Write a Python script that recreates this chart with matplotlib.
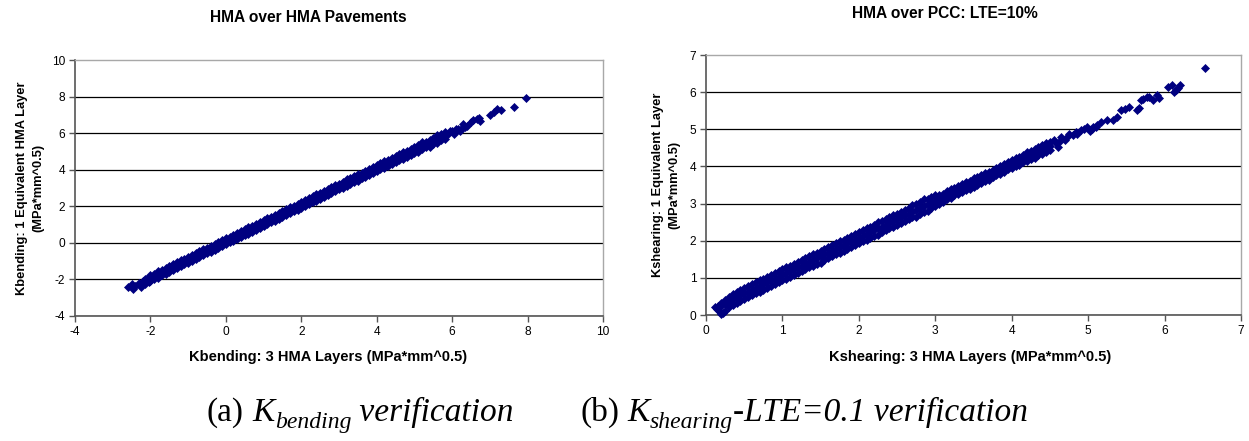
import matplotlib
matplotlib.use("Agg")
import matplotlib.pyplot as plt

plt.rcParams.update({
    "font.family": "Liberation Sans",
    "axes.unicode_minus": False,
})

W, H = 1249, 441
NAVY = "#000080"

# ---- panel (a): Kbending, 3 HMA layers vs 1 equivalent layer ----
bend_x = [-2.0, -1.9, -1.8, -1.7, -1.6, -1.5, -1.4, -1.3, -1.2, -1.1,
          -1.0, -0.9, -0.8, -0.7, -0.6, -0.5, -0.4, -0.3, -0.2, -0.1,
          0.0, 0.1, 0.2, 0.3, 0.4, 0.5, 0.6, 0.7, 0.8, 0.9,
          1.0, 1.1, 1.2, 1.3, 1.4, 1.5, 1.6, 1.7, 1.8, 1.9,
          2.0, 2.1, 2.2, 2.3, 2.4, 2.5, 2.6, 2.7, 2.8, 2.9,
          3.0, 3.1, 3.2, 3.3, 3.4, 3.5, 3.6, 3.7, 3.8, 3.9,
          4.0, 4.1, 4.2, 4.3, 4.4, 4.5, 4.6, 4.7, 4.8, 4.9,
          5.0, 5.1, 5.2, 5.3, 5.4, 5.5, 5.6, 5.7, 5.8]
bend_lo = [-2.06, -1.97, -1.92, -1.78, -1.68, -1.58, -1.51, -1.38, -1.28, -1.18,
           -1.08, -0.98, -0.88, -0.78, -0.68, -0.58, -0.48, -0.38, -0.28, -0.18,
           -0.08, 0.02, 0.12, 0.22, 0.32, 0.42, 0.49, 0.62, 0.72, 0.82,
           0.92, 1.02, 1.12, 1.22, 1.32, 1.42, 1.52, 1.62, 1.72, 1.82,
           1.92, 2.02, 2.12, 2.22, 2.29, 2.42, 2.52, 2.62, 2.72, 2.82,
           2.92, 3.02, 3.12, 3.22, 3.32, 3.38, 3.52, 3.62, 3.72, 3.82,
           3.92, 4.02, 4.08, 4.22, 4.32, 4.42, 4.52, 4.57, 4.72, 4.82,
           4.92, 4.97, 5.12, 5.22, 5.26, 5.42, 5.46, 5.62, 5.68]
bend_mid = [-1.90, -1.82, -1.72, -1.62, -1.52, -1.42, -1.32, -1.22, -1.12, -1.02,
            -0.92, -0.82, -0.72, -0.62, -0.52, -0.42, -0.32, -0.22, -0.12, -0.02,
            0.08, 0.18, 0.28, 0.38, 0.48, 0.58, 0.68, 0.78, 0.88, 0.98,
            1.08, 1.18, 1.28, 1.38, 1.48, 1.58, 1.68, 1.78, 1.88, 1.98,
            2.08, 2.18, 2.28, 2.38, 2.48, 2.58, 2.68, 2.78, 2.88, 2.98,
            3.08, 3.18, 3.28, 3.38, 3.48, 3.58, 3.68, 3.78, 3.88, 3.98,
            4.08, 4.18, 4.28, 4.38, 4.48, 4.58, 4.68, 4.78, 4.88, 4.98,
            5.08, 5.18, 5.28, 5.38, 5.48, 5.58, 5.68, 5.78, 5.88]
bend_hi = [-1.74, -1.68, -1.53, -1.46, -1.36, -1.26, -1.13, -1.06, -0.96, -0.86,
           -0.76, -0.66, -0.56, -0.46, -0.36, -0.26, -0.16, -0.06, 0.04, 0.14,
           0.24, 0.34, 0.44, 0.54, 0.64, 0.74, 0.87, 0.94, 1.04, 1.14,
           1.24, 1.34, 1.44, 1.54, 1.64, 1.74, 1.84, 1.94, 2.04, 2.14,
           2.24, 2.34, 2.44, 2.54, 2.68, 2.74, 2.84, 2.94, 3.04, 3.14,
           3.24, 3.34, 3.48, 3.54, 3.64, 3.74, 3.84, 3.94, 4.04, 4.14,
           4.24, 4.34, 4.48, 4.54, 4.64, 4.74, 4.84, 4.99, 5.04, 5.14,
           5.24, 5.34, 5.50, 5.54, 5.64, 5.74, 5.88, 5.94, 6.08]
bend_tail_x = [-2.6, -2.5, -2.45, -2.4, -2.3, -2.25, -2.2, -2.15, -2.1, -2.05, -2.15,
               5.9, 6.0, 6.05, 6.15, 6.25, 6.3, 6.4, 6.5, 6.55, 6.65, 6.75, 6.7,
               5.95, 6.1, 6.2, 6.35,
               7.0, 7.1, 7.2, 7.3, 7.65, 7.95]
bend_tail_y = [-2.4, -2.25, -2.5, -2.35, -2.2, -2.4, -2.1, -2.25, -2.0, -2.15, -1.95,
               5.95, 6.12, 5.98, 6.2, 6.3, 6.5, 6.4, 6.6, 6.72, 6.75, 6.65, 6.85,
               6.1, 6.22, 6.1, 6.35,
               7.0, 7.15, 7.3, 7.28, 7.45, 7.9]

# ---- panel (b): Kshearing, LTE = 10% ----
shear_x = [0.20, 0.25, 0.30, 0.35, 0.40, 0.45, 0.50, 0.55, 0.60, 0.65,
           0.70, 0.75, 0.80, 0.85, 0.90, 0.95, 1.00, 1.05, 1.10, 1.15,
           1.20, 1.25, 1.30, 1.35, 1.40, 1.45, 1.50, 1.55, 1.60, 1.65,
           1.70, 1.75, 1.80, 1.85, 1.90, 1.95, 2.00, 2.05, 2.10, 2.15,
           2.20, 2.25, 2.30, 2.35, 2.40, 2.45, 2.50, 2.55, 2.60, 2.65,
           2.70, 2.75, 2.80, 2.85, 2.90, 2.95, 3.00]
shear_lo = [0.06, 0.11, 0.21, 0.27, 0.33, 0.38, 0.43, 0.48, 0.53, 0.58,
            0.63, 0.68, 0.73, 0.78, 0.83, 0.88, 0.93, 0.98, 1.03, 1.08,
            1.13, 1.18, 1.23, 1.28, 1.33, 1.38, 1.40, 1.48, 1.53, 1.58,
            1.63, 1.68, 1.73, 1.78, 1.83, 1.88, 1.93, 1.98, 2.03, 2.08,
            2.13, 2.15, 2.23, 2.28, 2.33, 2.38, 2.43, 2.48, 2.53, 2.58,
            2.63, 2.64, 2.73, 2.78, 2.79, 2.88, 2.93]
shear_mid = [0.24, 0.30, 0.36, 0.42, 0.48, 0.53, 0.58, 0.63, 0.68, 0.73,
             0.78, 0.83, 0.88, 0.93, 0.98, 1.03, 1.08, 1.13, 1.18, 1.23,
             1.28, 1.33, 1.38, 1.43, 1.48, 1.53, 1.58, 1.63, 1.68, 1.73,
             1.78, 1.83, 1.88, 1.93, 1.98, 2.03, 2.08, 2.13, 2.18, 2.23,
             2.28, 2.33, 2.38, 2.43, 2.48, 2.53, 2.58, 2.63, 2.68, 2.73,
             2.78, 2.83, 2.88, 2.93, 2.98, 3.03, 3.08]
shear_hi = [0.32, 0.40, 0.49, 0.56, 0.62, 0.68, 0.73, 0.78, 0.83, 0.88,
            0.93, 0.98, 1.03, 1.08, 1.13, 1.18, 1.23, 1.28, 1.33, 1.38,
            1.43, 1.48, 1.53, 1.58, 1.63, 1.68, 1.73, 1.78, 1.83, 1.88,
            1.93, 1.98, 2.03, 2.08, 2.13, 2.18, 2.23, 2.28, 2.33, 2.38,
            2.43, 2.51, 2.53, 2.58, 2.63, 2.68, 2.73, 2.78, 2.83, 2.88,
            2.96, 2.98, 3.03, 3.11, 3.13, 3.18, 3.23]
shear2_x = [3.05, 3.10, 3.15, 3.20, 3.25, 3.30, 3.35, 3.40, 3.45, 3.50,
            3.55, 3.60, 3.65, 3.70, 3.75, 3.80, 3.85, 3.90, 3.95, 4.00,
            4.05, 4.10, 4.15, 4.20, 4.25, 4.30, 4.35, 4.40, 4.45, 4.50]
shear2_lo = [3.00, 3.04, 3.11, 3.15, 3.22, 3.25, 3.31, 3.36, 3.38, 3.45,
             3.50, 3.55, 3.60, 3.64, 3.72, 3.76, 3.79, 3.84, 3.93, 3.96,
             4.00, 4.04, 4.12, 4.15, 4.20, 4.24, 4.31, 4.34, 4.38, 4.45]
shear2_mid = [3.11, 3.16, 3.22, 3.27, 3.32, 3.37, 3.42, 3.47, 3.52, 3.57,
              3.62, 3.67, 3.72, 3.76, 3.81, 3.87, 3.92, 3.96, 4.02, 4.07,
              4.11, 4.16, 4.21, 4.26, 4.31, 4.36, 4.41, 4.46, 4.51, 4.55]
shear2_hi = [3.22, 3.27, 3.33, 3.38, 3.42, 3.48, 3.52, 3.59, 3.62, 3.68,
             3.72, 3.78, 3.82, 3.86, 3.90, 3.97, 4.02, 4.06, 4.12, 4.17,
             4.22, 4.26, 4.32, 4.38, 4.42, 4.46, 4.52, 4.58, 4.62, 4.65]
shear_tail_x = [0.12, 0.14, 0.17, 0.20, 0.22, 0.16,
                4.55, 4.60, 4.65, 4.75, 4.86, 4.91, 4.99, 5.07, 5.02, 5.12, 5.17,
                4.58, 4.63, 4.70, 4.72, 4.80, 4.84, 4.95, 5.05, 5.10,
                5.25, 5.33, 5.38, 5.43, 5.48, 5.54, 5.64, 5.67, 5.69, 5.72, 5.77,
                5.80, 5.85, 5.90, 5.93, 6.05, 6.10, 6.15, 6.20, 6.18, 6.12, 6.53]
shear_tail_y = [0.22, 0.17, 0.12, 0.02, 0.05, 0.25,
                4.70, 4.52, 4.79, 4.88, 4.88, 4.97, 5.06, 5.06, 4.95, 5.12, 5.20,
                4.62, 4.68, 4.72, 4.80, 4.85, 4.93, 5.00, 5.00, 5.05,
                5.24, 5.24, 5.33, 5.51, 5.55, 5.60, 5.51, 5.56, 5.78, 5.82, 5.87,
                5.87, 5.78, 5.92, 5.83, 6.15, 6.18, 6.05, 6.20, 6.10, 6.00, 6.64]


def dots(ax, x, y):
    ax.plot(x, y, ls="none", marker="D", ms=4.0, color=NAVY, mec=NAVY, mew=0.5,
            zorder=3, clip_on=False)


def style(ax, xlim, ylim, xticks, yticks):
    ax.set_xlim(*xlim)
    ax.set_ylim(*ylim)
    ax.set_xticks(xticks)
    ax.set_yticks(yticks)
    ax.yaxis.grid(True, color="black", lw=0.9)
    ax.yaxis.get_gridlines()[-1].set_visible(False)
    ax.set_axisbelow(True)
    for s in ("left", "bottom"):
        ax.spines[s].set_color("#555555")
        ax.spines[s].set_linewidth(1.2)
    for s in ("top", "right"):
        ax.spines[s].set_color("#a8a8a8")
        ax.spines[s].set_linewidth(1.0)
    ax.tick_params(direction="out", length=4, width=1.0, color="#555555",
                   labelsize=8.6, pad=3)


fig = plt.figure(figsize=(W / 100, H / 100), dpi=100)
ax1 = fig.add_axes([75 / W, 1 - 316 / H, 528 / W, 256 / H])
ax2 = fig.add_axes([706 / W, 1 - 315 / H, 535 / W, 260 / H])

style(ax1, (-4, 10), (-4, 10), range(-4, 11, 2), range(-4, 11, 2))
for ys in (bend_lo, bend_mid, bend_hi):
    dots(ax1, bend_x, ys)
dots(ax1, bend_tail_x, bend_tail_y)

style(ax2, (0, 7), (0, 7), range(0, 8), range(0, 8))
for ys in (shear_lo, shear_mid, shear_hi):
    dots(ax2, shear_x, ys)
for ys in (shear2_lo, shear2_mid, shear2_hi):
    dots(ax2, shear2_x, ys)
dots(ax2, shear_tail_x, shear_tail_y)

fig.text(308 / W, 1 - 18 / H, "HMA over HMA Pavements", fontsize=11.2,
         fontweight="bold", ha="center", va="center")
fig.text(945 / W, 1 - 13 / H, "HMA over PCC: LTE=10%", fontsize=11.2,
         fontweight="bold", ha="center", va="center")
xlab = dict(fontweight="bold", fontsize=10.5, ha="center", va="center")
fig.text(328 / W, 1 - 357 / H, "Kbending: 3 HMA Layers (MPa*mm^0.5)", **xlab)
fig.text(970 / W, 1 - 357 / H, "Kshearing: 3 HMA Layers (MPa*mm^0.5)", **xlab)
ylab = dict(fontweight="bold", fontsize=9.3, ha="center", va="center",
            rotation=90, linespacing=1.5)
fig.text(30 / W, 1 - 188 / H, "Kbending: 1 Equivalent HMA Layer\n(MPa*mm^0.5)", **ylab)
fig.text(666 / W, 1 - 185 / H, "Kshearing: 1 Equivalent Layer\n(MPa*mm^0.5)", **ylab)

# captions: upright label, italic K with italic subscript, italic remainder
renderer = fig.canvas.get_renderer()


def caption(x_px, base_px, pieces):
    x = x_px
    for s, size, dy, style_ in pieces:
        t = fig.text(x / W, 1 - (base_px - dy) / H, s, fontsize=size,
                     family="Liberation Serif", fontstyle=style_, va="baseline")
        x += t.get_window_extent(renderer).width


CAP, SUB = 24, 17
caption(207, 421, [("(a)", CAP, 0, "normal"), (" ", CAP, 0, "normal"),
                   ("K", CAP, 0, "italic"), ("bending", SUB, -7, "italic"),
                   (" verification", CAP, 0, "italic")])
caption(580, 421, [("(b)", CAP, 0, "normal"), (" ", CAP, 0, "normal"),
                   ("K", CAP, 0, "italic"), ("shearing", SUB, -7, "italic"),
                   ("-LTE=0.1 verification", CAP, 0, "italic")])

fig.savefig("out.png", dpi=100, facecolor="white")
